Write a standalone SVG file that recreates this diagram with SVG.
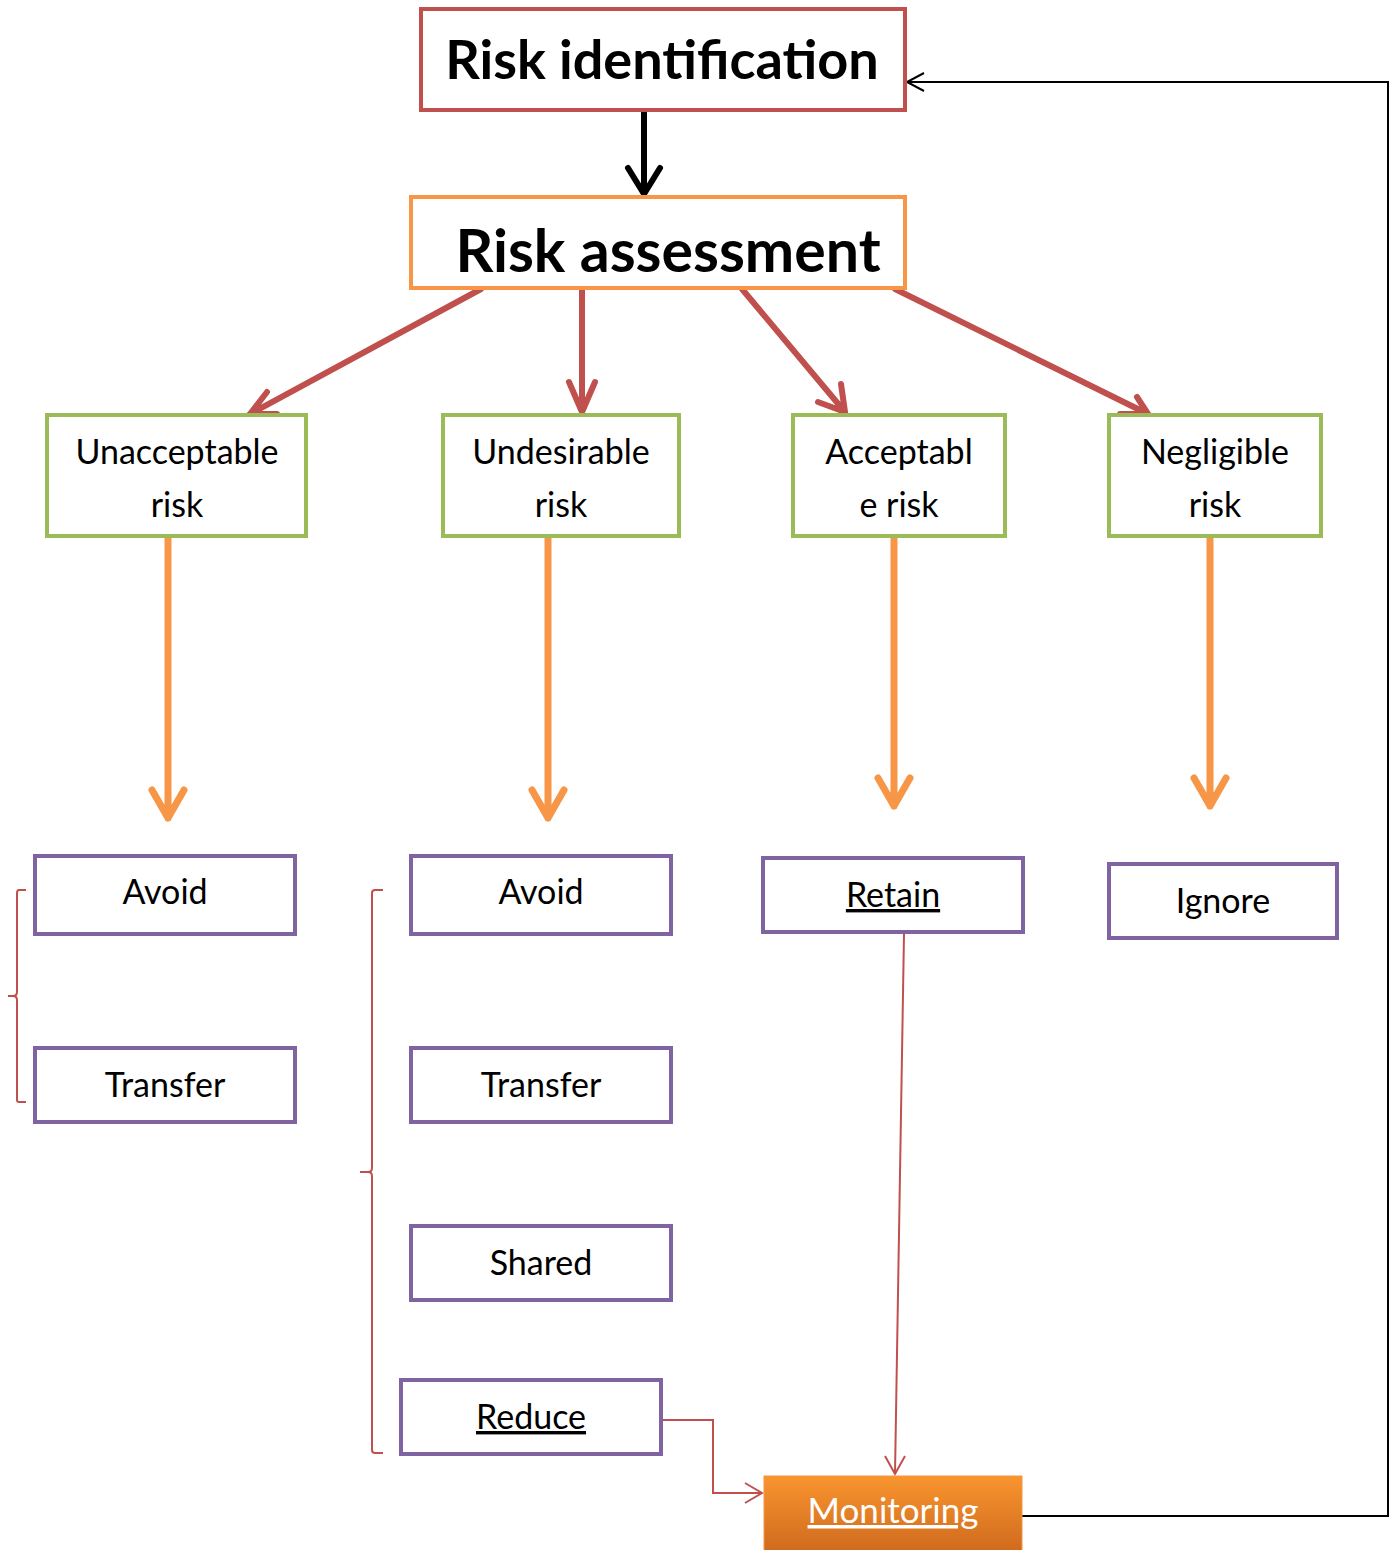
<svg xmlns="http://www.w3.org/2000/svg" width="1394" height="1550" viewBox="0 0 1394 1550">
<defs>
<style>
text{font-family:Lato,"Open Sans","Liberation Sans",sans-serif;text-anchor:middle;fill:#000}
.big{font-weight:bold}
.lbl{font-size:34px}
.red{fill:#fff;stroke:#C0504D;stroke-width:4}
.org{fill:#fff;stroke:#F79646;stroke-width:4}
.grn{fill:#fff;stroke:#9BBB59;stroke-width:4}
.pur{fill:#fff;stroke:#8064A2;stroke-width:4}
.ra{stroke:#C0504D;stroke-width:6;fill:none;stroke-linecap:round;stroke-linejoin:round}
.oa{stroke:#F79646;stroke-width:7;fill:none;stroke-linecap:round;stroke-linejoin:round}
.thin{stroke:#C0504D;stroke-width:2;fill:none}
.blk{stroke:#000;stroke-width:2;fill:none}
</style>
<linearGradient id="mg" x1="0" y1="0" x2="0" y2="1">
<stop offset="0" stop-color="#F9952E"/>
<stop offset="1" stop-color="#CF6A1E"/>
</linearGradient>
</defs>
<rect width="1394" height="1550" fill="#fff"/>
<g id="connectors">
<path d="M644,110 V194 M628,168 L644,194 L660,168" stroke="#000" stroke-width="6" fill="none" stroke-linejoin="round" stroke-linecap="round"/>
<path class="ra" d="M481,289 L250,414 M267,392 L250,414 L277,414"/>
<path class="ra" d="M582,289 V412 M569,382 L582,412 L595,382"/>
<path class="ra" d="M742,289 L845,412 M841,384 L845,412 L818,402" stroke-width="7"/>
<path class="ra" d="M895,289 L1148,414 M1137,397 L1148,414 L1120,414"/>
<path class="oa" d="M168,538 V818 M152,790 L168,818 L184,790"/>
<path class="oa" d="M548,538 V818 M532,790 L548,818 L564,790"/>
<path class="oa" d="M894,538 V806 M878,778 L894,806 L910,778"/>
<path class="oa" d="M1210,538 V806 M1194,778 L1210,806 L1226,778"/>
<path class="thin" d="M904,934 L895,1474 M885,1456 L895,1474 L905,1456"/>
<path class="thin" d="M661,1420 H713 V1493 H762 M745,1483 L762,1493 L745,1503"/>
<path class="blk" d="M1022,1516 H1388 V82 H907 M924,73 L907,82 L924,91"/>
<path class="thin" d="M26,890 H19 Q17,890 17,893 V992 Q17,996 13,996 H8 M13,996 Q17,996 17,1000 V1100 Q17,1102 19,1102 H26"/>
<path class="thin" d="M383,890 H375 Q372,890 372,893 V1168 Q372,1172 368,1172 H360 M368,1172 Q372,1172 372,1176 V1450 Q372,1453 375,1453 H383"/>
</g>
<g id="risk-identification">
<rect class="red" x="421" y="9" width="484" height="101"/>
<text class="big" x="662" y="79" font-size="54">Risk identification</text>
</g>
<g id="risk-assessment">
<rect class="org" x="411" y="197" width="494" height="91"/>
<text class="big" x="668" y="272" font-size="59">Risk assessment</text>
</g>
<g id="unacceptable">
<rect class="grn" x="47" y="415" width="259" height="121"/>
<text class="lbl" x="177" y="464">Unacceptable</text>
<text class="lbl" x="177" y="517">risk</text>
</g>
<g id="undesirable">
<rect class="grn" x="443" y="415" width="236" height="121"/>
<text class="lbl" x="561" y="464">Undesirable</text>
<text class="lbl" x="561" y="517">risk</text>
</g>
<g id="acceptable">
<rect class="grn" x="793" y="415" width="212" height="121"/>
<text class="lbl" x="899" y="464">Acceptabl</text>
<text class="lbl" x="899" y="517">e risk</text>
</g>
<g id="negligible">
<rect class="grn" x="1109" y="415" width="212" height="121"/>
<text class="lbl" x="1215" y="464">Negligible</text>
<text class="lbl" x="1215" y="517">risk</text>
</g>
<g id="avoid1">
<rect class="pur" x="35" y="856" width="260" height="78"/>
<text class="lbl" x="165" y="904">Avoid</text>
</g>
<g id="transfer1">
<rect class="pur" x="35" y="1048" width="260" height="74"/>
<text class="lbl" x="165" y="1097">Transfer</text>
</g>
<g id="avoid2">
<rect class="pur" x="411" y="856" width="260" height="78"/>
<text class="lbl" x="541" y="904">Avoid</text>
</g>
<g id="transfer2">
<rect class="pur" x="411" y="1048" width="260" height="74"/>
<text class="lbl" x="541" y="1097">Transfer</text>
</g>
<g id="shared">
<rect class="pur" x="411" y="1226" width="260" height="74"/>
<text class="lbl" x="541" y="1275">Shared</text>
</g>
<g id="reduce">
<rect class="pur" x="401" y="1380" width="260" height="74"/>
<text class="lbl" x="531" y="1429" text-decoration="underline">Reduce</text>
</g>
<g id="retain">
<rect class="pur" x="763" y="858" width="260" height="74"/>
<text class="lbl" x="893" y="907" text-decoration="underline">Retain</text>
</g>
<g id="ignore">
<rect class="pur" x="1109" y="864" width="228" height="74"/>
<text class="lbl" x="1223" y="913">Ignore</text>
</g>
<g id="monitoring">
<rect x="764" y="1476" width="258" height="76" fill="url(#mg)" stroke="#F79646" stroke-width="1"/>
<text x="893" y="1523" font-size="35" style="fill:#fff" text-decoration="underline">Monitoring</text>
</g>
</svg>
